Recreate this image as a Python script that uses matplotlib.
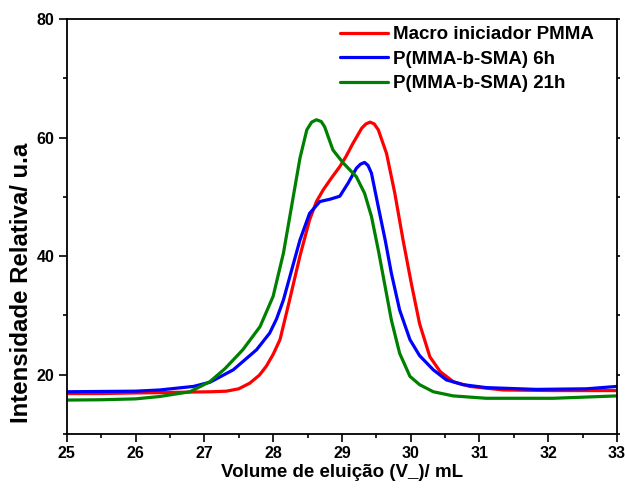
import matplotlib
matplotlib.use("Agg")
import matplotlib.pyplot as plt
from matplotlib.ticker import MultipleLocator

plt.rcParams['font.family'] = ['Liberation Sans', 'DejaVu Sans']
plt.rcParams['font.weight'] = 'bold'

# Macro iniciador PMMA
x_red = [25.0, 25.5, 26.0, 26.35, 26.8, 27.1, 27.32, 27.5, 27.66, 27.8, 27.9, 28.0, 28.1,
         28.24, 28.39, 28.53, 28.63, 28.73, 28.85, 28.97, 29.06, 29.16, 29.29, 29.35, 29.41,
         29.47, 29.53, 29.65, 29.77, 29.89, 30.01, 30.13, 30.28, 30.43, 30.62, 30.86, 31.35,
         32.07, 33.0]
y_red = [16.8, 16.8, 16.9, 16.95, 17.05, 17.1, 17.2, 17.6, 18.55, 19.9, 21.4, 23.4, 25.9,
         32.6, 40.0, 46.1, 49.2, 51.2, 53.2, 55.1, 56.8, 59.0, 61.6, 62.3, 62.6,
         62.3, 61.3, 57.3, 50.6, 42.7, 35.4, 28.6, 23.0, 20.5, 18.8, 18.0, 17.4,
         17.3, 17.3]

# P(MMA-b-SMA) 6h
x_blue = [25.0, 25.5, 26.0, 26.35, 26.84, 27.08, 27.42, 27.76, 27.95, 28.05, 28.15, 28.29,
          28.39, 28.53, 28.68, 28.83, 28.97, 29.09, 29.21, 29.27, 29.33, 29.38, 29.43, 29.53,
          29.63, 29.72, 29.84, 29.99, 30.13, 30.33, 30.52, 30.76, 31.1, 31.83, 32.56, 33.0]
y_blue = [17.1, 17.15, 17.2, 17.4, 18.0, 18.7, 20.8, 24.2, 27.0, 29.4, 32.6, 38.5,
          42.7, 47.2, 49.2, 49.6, 50.1, 52.3, 54.8, 55.5, 55.8, 55.3, 54.0, 48.3,
          42.7, 37.1, 30.9, 25.9, 23.2, 20.8, 19.1, 18.3, 17.8, 17.5, 17.6, 18.0]

# P(MMA-b-SMA) 21h
x_green = [25.0, 25.5, 26.0, 26.35, 26.79, 27.08, 27.3, 27.56, 27.81, 28.0, 28.15, 28.27,
           28.39, 28.49, 28.56, 28.63, 28.7, 28.75, 28.87, 29.02, 29.21, 29.33, 29.43, 29.53,
           29.63, 29.72, 29.84, 29.99, 30.13, 30.33, 30.62, 31.1, 32.07, 33.0]
y_green = [15.7, 15.75, 15.9, 16.3, 17.1, 18.8, 21.0, 24.2, 28.1, 33.2, 40.5, 48.5,
           56.5, 61.3, 62.6, 63.0, 62.7, 61.8, 57.9, 55.7, 53.4, 50.6, 46.7, 41.0,
           34.8, 29.2, 23.6, 19.7, 18.3, 17.1, 16.4, 16.0, 16.0, 16.4]

fig = plt.figure(figsize=(6.25, 4.88), dpi=100)
ax = fig.add_axes([0.107, 0.111, 0.880, 0.850])

kw = dict(lw=2.3, solid_joinstyle='round', solid_capstyle='round')
ax.plot(x_red, y_red, color='#ff0000', label='Macro iniciador PMMA', **kw)
ax.plot(x_blue, y_blue, color='#0000ff', label='P(MMA-b-SMA) 6h', **kw)
ax.plot(x_green, y_green, color='#008000', label='P(MMA-b-SMA) 21h', **kw)

ax.set_xlim(25, 33)
ax.set_ylim(10, 80)
ax.xaxis.set_major_locator(MultipleLocator(1))
ax.xaxis.set_minor_locator(MultipleLocator(0.5))
ax.yaxis.set_major_locator(MultipleLocator(20))
ax.yaxis.set_minor_locator(MultipleLocator(10))
ax.tick_params(which='both', direction='out', labelsize=11.5, width=1.2, pad=3)
ax.tick_params(which='major', length=6)
ax.tick_params(which='minor', length=3)
ax.tick_params(which='both', top=False, right=True)
# short ticks on the right side
for t in ax.yaxis.get_major_ticks() + ax.yaxis.get_minor_ticks():
    t.tick2line.set_markersize(2.5)
for sp in ax.spines.values():
    sp.set_linewidth(1.3)

ax.set_xlabel('Volume de eluição (V_)/ mL', fontsize=13.5, fontweight='bold', labelpad=2)
ax.set_ylabel('Intensidade Relativa/ u.a', fontsize=17.3, fontweight='bold')
ax.yaxis.set_label_coords(-0.062, 0.364)

ax.legend(loc='upper right', bbox_to_anchor=(0.972, 1.001), borderaxespad=0,
          frameon=False, fontsize=13.5, handlelength=2.56, handletextpad=0.27,
          labelspacing=0.39)

fig.savefig('out.png', dpi=100)
